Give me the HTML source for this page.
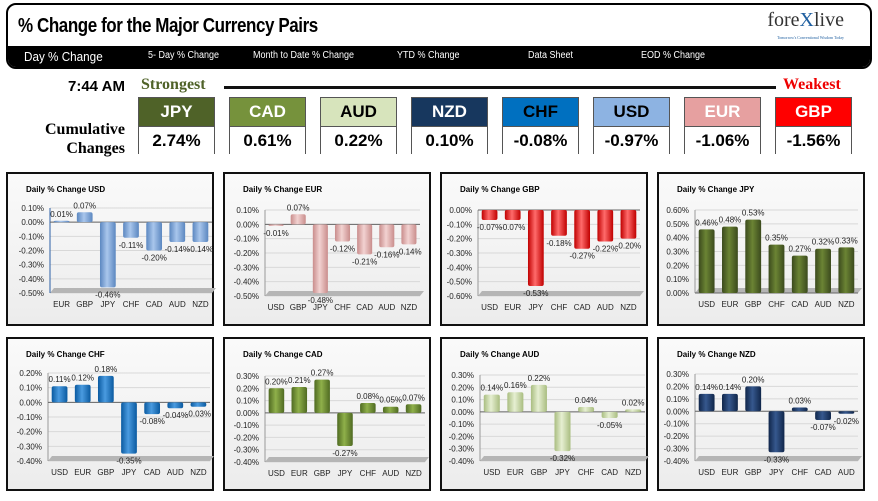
<!DOCTYPE html>
<html><head><meta charset="utf-8">
<style>
body{margin:0;width:878px;height:501px;background:#fff;position:relative;overflow:hidden;font-family:"Liberation Sans",sans-serif}
.abs{position:absolute}
#hdr{left:6px;top:3px;width:862px;height:62px;border:2px solid #000;border-radius:10px;overflow:hidden;background:#fff}
#title{left:10px;top:10px;font:bold 20px "Liberation Sans Narrow","Liberation Sans",sans-serif;letter-spacing:-0.5px;transform:scaleX(0.85);transform-origin:left}
#nav{left:0;top:41px;width:862px;height:21px;background:#000;color:#fff}
#nav span{position:absolute;top:4px;font-size:10px;transform:scaleX(0.9);transform-origin:left}
.tile{position:absolute;width:77px;height:57px;border:1px solid #555;box-sizing:border-box}
.tile .n{height:28px;border-bottom:1px solid #555;font:bold 17px "Liberation Sans Narrow","Liberation Sans",sans-serif;text-align:center;line-height:28px}
.tile .v{font:bold 17px "Liberation Sans Narrow","Liberation Sans",sans-serif;text-align:center;line-height:28px;background:#fff}
.panel{position:absolute;width:208px;height:154px;border:2px solid #111;box-sizing:border-box;background:linear-gradient(#fafafa,#ececec)}
</style></head><body>
<div id="hdr" class="abs">
 <div id="title" class="abs">% Change for the Major Currency Pairs</div>
 <div class="abs" style="right:26px;top:4px;font:20px 'Liberation Serif',serif;color:#333">fore<span style="color:#1f5fa0">X</span>live</div>
 <div class="abs" style="right:26px;top:30px;font:4px 'Liberation Serif',serif;color:#1f5fa0">Tomorrow's Conventional Wisdom Today</div>
 <div id="nav" class="abs">
  <span style="left:16px;font-size:13px;top:3px">Day % Change</span>
  <span style="left:140px">5- Day % Change</span>
  <span style="left:245px">Month to Date % Change</span>
  <span style="left:389px">YTD % Change</span>
  <span style="left:520px">Data Sheet</span>
  <span style="left:633px">EOD % Change</span>
 </div>
</div>
<div class="abs" style="left:68px;top:78px;font:bold 15px 'Liberation Sans Narrow','Liberation Sans',sans-serif">7:44 AM</div>
<div class="abs" style="left:141px;top:76px;font:bold 16px 'Liberation Serif',serif;color:#4f6228">Strongest</div>
<div class="abs" style="left:224px;top:86px;width:552px;height:3px;background:#111"></div>
<div class="abs" style="left:783px;top:76px;font:bold 16px 'Liberation Serif',serif;color:#e00">Weakest</div>
<div class="abs" style="left:45px;top:120px;font:bold 16px 'Liberation Serif',serif;text-align:right;line-height:19px">Cumulative<br>&nbsp;&nbsp;&nbsp;&nbsp;Changes</div>
<div id="tiles"></div>
<div id="panels"></div>
<svg id="ch" class="abs" style="left:0;top:0" width="878" height="501"></svg>
<script>
const tileNames=["JPY","CAD","AUD","NZD","CHF","USD","EUR","GBP"];
const tileValues=["2.74%","0.61%","0.22%","0.10%","-0.08%","-0.97%","-1.06%","-1.56%"];
const tileColors=["#4f6228","#76923c","#d7e4bc","#17375e","#0070c0","#8db3e2","#e6a0a0","#ff0000"];
const tileText=["#fff","#fff","#000","#fff","#000","#000","#fff","#fff"];
const T=document.getElementById('tiles');
tileNames.forEach((n,i)=>{const d=document.createElement('div');d.className='tile';d.style.left=(138+i*91)+'px';d.style.top='97px';


d.innerHTML='<div class="n" style="background:'+tileColors[i]+';color:'+tileText[i]+'">'+n+'</div><div class="v">'+tileValues[i]+'</div>';T.appendChild(d);});

const chartTitles=["USD","EUR","GBP","JPY","CHF","CAD","AUD","NZD"];
const cats=[["EUR","GBP","JPY","CHF","CAD","AUD","NZD"],["USD","GBP","JPY","CHF","CAD","AUD","NZD"],["USD","EUR","JPY","CHF","CAD","AUD","NZD"],["USD","EUR","GBP","CHF","CAD","AUD","NZD"],["USD","EUR","GBP","JPY","CAD","AUD","NZD"],["USD","EUR","GBP","JPY","CHF","AUD","NZD"],["USD","EUR","GBP","JPY","CHF","CAD","NZD"],["USD","EUR","GBP","JPY","CHF","CAD","AUD"]];
const vals=[[0.01,0.07,-0.46,-0.11,-0.20,-0.14,-0.14],[-0.01,0.07,-0.48,-0.12,-0.21,-0.16,-0.14],[-0.07,-0.07,-0.53,-0.18,-0.27,-0.22,-0.20],[0.46,0.48,0.53,0.35,0.27,0.32,0.33],[0.11,0.12,0.18,-0.35,-0.08,-0.04,-0.03],[0.20,0.21,0.27,-0.27,0.08,0.05,0.07],[0.14,0.16,0.22,-0.32,0.04,-0.05,0.02],[0.14,0.14,0.20,-0.33,0.03,-0.07,-0.02]];
const yMin=[-0.5,-0.5,-0.6,0,-0.4,-0.4,-0.4,-0.4];
const yMax=[0.1,0.1,0,0.6,0.2,0.3,0.3,0.3];
const yStep=[0.1,0.1,0.1,0.1,0.1,0.1,0.1,0.1];
const barColors=[["#5b87c0","#a9c6ec"],["#c98d8c","#f2d2d1"],["#c00000","#ff6b6b"],["#3b4a1d","#6b8434"],["#0a5aa0","#4a9be0"],["#4f6a22","#8fb04a"],["#a9bd80","#e6efd2"],["#10264a","#36588e"]];
const PX=[6,223,440,657],PY=[172,337];
const plots=[[50,208,212,293],[265,210,420,296],[478,210,640,296],[695,210,858,293],[48,373,210,461],[265,376,425,462],[480,375,645,461],[695,374,858,461]];
const svg=document.getElementById('ch');const NS='http://www.w3.org/2000/svg';
const P=document.getElementById('panels');
function el(t,a,p){const e=document.createElementNS(NS,t);for(const k in a)e.setAttribute(k,a[k]);(p||svg).appendChild(e);return e;}
let defs=el('defs',{});
chartTitles.forEach((ttl,ci)=>{
 const px=PX[ci%4],py=PY[Math.floor(ci/4)];
 const pd=document.createElement('div');pd.className='panel';pd.style.left=px+'px';pd.style.top=py+'px';
 
 
 P.appendChild(pd);
 const g=el('g',{});
 
 
 const tt=el('text',{x:px+20,y:py+20,'font-size':'8','font-weight':'bold'},g);tt.textContent='Daily % Change '+ttl;
 const [x0,y0,x1,y1]=plots[ci];
 const ys=v=>y0+(yMax[ci]-v)/(yMax[ci]-yMin[ci])*(y1-y0);
 for(let v=yMin[ci];v<=yMax[ci]+1e-9;v+=yStep[ci]){
  const y=ys(v);el('line',{x1:x0,x2:x1,y1:y,y2:y,stroke:'#d8d8d8','stroke-width':1},g);
  const t=el('text',{x:x0-6,y:y+3,'font-size':'8','text-anchor':'end',fill:'#222'},g);t.textContent=v.toFixed(2).replace('-0.00','0.00')+'%';
 }
 el('polygon',{points:`${x0},${y1} ${x1},${y1} ${x1+4},${y1-5} ${x0+4},${y1-5}`,fill:'#b5b5b5'},g);
 el('line',{x1:x0,x2:x0,y1:y0,y2:y1,stroke:ci==0?'#2b5fa6':'#999'},g);
 const zy=ys(0);el('line',{x1:x0,x2:x1,y1:zy,y2:zy,stroke:'#666'},g);
 const gid='gr'+ci;const lg=el('linearGradient',{id:gid,x1:0,x2:1,y1:0,y2:0},defs);
 el('stop',{offset:'0','stop-color':barColors[ci][0]},lg);el('stop',{offset:'0.45','stop-color':barColors[ci][1]},lg);el('stop',{offset:'1','stop-color':barColors[ci][0]},lg);
 const n=cats[ci].length,bw=(x1-x0)/n;
 cats[ci].forEach((c,i)=>{
  const v=vals[ci][i],cx=x0+bw*(i+0.5),w=bw*0.68,y=ys(v);
  const r=el('rect',{x:cx-w/2,y:Math.min(y,zy),width:w,height:Math.max(1.5,Math.abs(zy-y)),fill:`url(#${gid})`,rx:2},g);
  
  
  const lab=el('text',{x:cx,y:v>=0?y-4:y+10,'font-size':'8','text-anchor':'middle',fill:'#222'},g);lab.textContent=v.toFixed(2)+'%';
  const cl=el('text',{x:cx,y:y1+14,'font-size':'8','text-anchor':'middle',fill:'#222'},g);cl.textContent=c;
 });
});
</script>
</body></html>
